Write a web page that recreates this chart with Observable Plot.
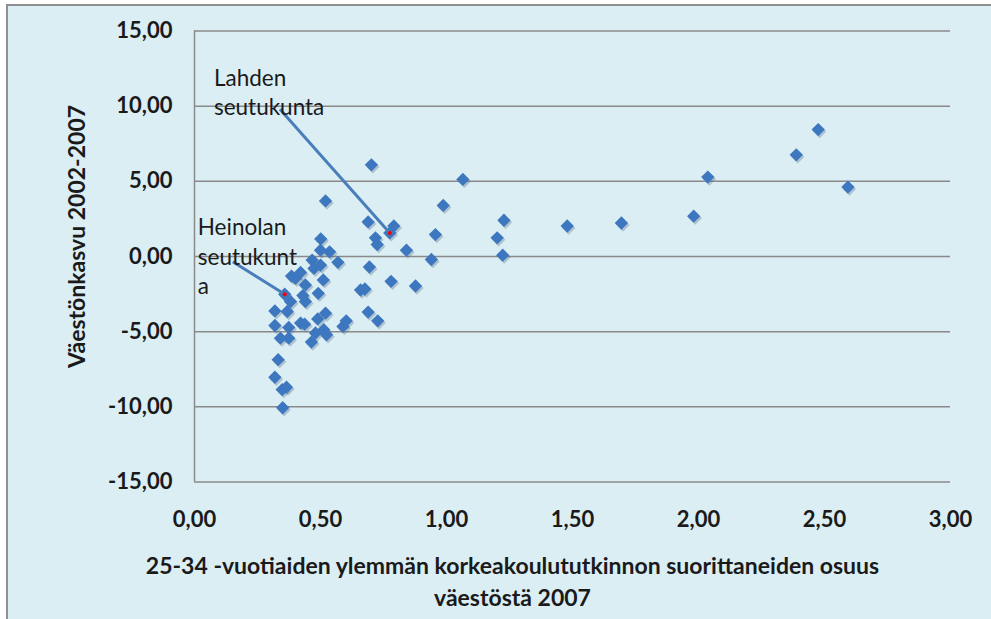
<!DOCTYPE html>
<html><head><meta charset="utf-8">
<script src="https://cdn.jsdelivr.net/npm/d3@7"></script>
<script src="https://cdn.jsdelivr.net/npm/@observablehq/plot@0.6"></script>
<style>
body{margin:0;background:#fff;}
#wrap{position:relative;width:991px;height:619px;overflow:hidden;}
#bg{position:absolute;left:6px;top:4px;width:990px;height:620px;background:#dbeef4;border-left:2px solid #909090;border-top:2px solid #909090;}
#chart{position:absolute;left:0;top:0;}
</style></head><body>
<div id="wrap"><div id="bg"></div><div id="chart"></div></div>
<script>
// Share of 25-34 year olds with higher university degree (x) vs population growth 2002-2007 (y)
const xShare = [0.702,0.520,0.689,0.791,0.775,0.718,0.725,0.841,0.940,0.501,0.500,0.536,0.467,0.500,0.474,0.569,0.694,0.385,0.421,0.401,0.511,0.780,0.877,0.440,0.491,0.430,0.440,0.358,0.381,0.659,0.676,0.319,0.368,0.689,0.727,0.520,0.489,0.602,0.589,0.319,0.374,0.421,0.437,0.513,0.524,0.480,0.464,0.341,0.374,0.332,0.319,0.348,0.365,0.350,1.065,0.987,0.956,1.228,1.201,1.223,1.479,1.694,1.981,2.037,2.388,2.475,2.593];
const yGrowth = [6.10,3.70,2.30,2.03,1.57,1.24,0.80,0.42,-0.20,1.17,0.42,0.31,-0.24,-0.57,-0.79,-0.39,-0.70,-1.30,-1.06,-1.45,-1.56,-1.65,-1.96,-1.89,-2.45,-2.60,-3.00,-2.51,-3.00,-2.23,-2.16,-3.62,-3.66,-3.70,-4.28,-3.77,-4.15,-4.28,-4.65,-4.59,-4.72,-4.43,-4.50,-4.87,-5.21,-5.09,-5.69,-5.43,-5.43,-6.86,-8.03,-8.85,-8.69,-10.06,5.13,3.40,1.46,2.41,1.24,0.09,2.03,2.23,2.68,5.28,6.76,8.44,4.62];

const xTicks = [0, 0.5, 1, 1.5, 2, 2.5, 3];
const yTicks = [-15, -10, -5, 0, 5, 10, 15];

// Annotations
const annoNames = ["Lahden\nseutukunta", "Heinolan\nseutukunt\na"];
const annoTextX = [0.077, 0.013];
const annoTextY = [11.0, 0.1];
const annoLineX1 = [0.339, 0.152];
const annoLineY1 = [9.80, -0.35];
const annoPointX = [0.775, 0.358];
const annoPointY = [1.57, -2.51];

const yTitle = "Väestönkasvu 2002-2007";
const xTitle = "25-34 -vuotiaiden ylemmän korkeakoulututkinnon suorittaneiden osuus\nväestöstä 2007";

const points = xShare.map((x, i) => ({x, y: yGrowth[i]}));
const annos = annoNames.map((t, i) => ({t, tx: annoTextX[i], ty: annoTextY[i], x1: annoLineX1[i], y1: annoLineY1[i], x2: annoPointX[i], y2: annoPointY[i]}));

const fmt = d => d.toFixed(2).replace(".", ",");
const font = "Lato, 'Open Sans', sans-serif";

const plot = Plot.plot({
  width: 991, height: 619,
  marginLeft: 194, marginRight: 41, marginTop: 30.5, marginBottom: 137.5,
  style: {background: "transparent", fontFamily: font, color: "#1a1a1a", overflow: "visible"},
  x: {domain: [0, 3], label: null},
  y: {domain: [-15, 15], label: null},
  marks: [
    Plot.gridY(yTicks, {stroke: "#8a8a8a", strokeOpacity: 1, strokeWidth: 1.5}),
    Plot.ruleX([0], {stroke: "#8a8a8a", strokeWidth: 1.5}),
    Plot.axisY({ticks: yTicks, tickSize: 0, tickPadding: 22, tickFormat: fmt, fontSize: 22, fontWeight: "bold", label: null}),
    Plot.axisX({ticks: xTicks, tickSize: 0, tickPadding: 29, tickFormat: fmt, fontSize: 22, fontWeight: "bold", label: null}),
    Plot.dot(points, {x: "x", y: "y", symbol: "diamond2", r: 6, fill: "#5a6f88", fillOpacity: 0.35, dx: 1.5, dy: 2}),
    Plot.dot(points, {x: "x", y: "y", symbol: "diamond2", r: 6, fill: "#3d77c0"}),
    Plot.link(annos, {x1: "x1", y1: "y1", x2: "x2", y2: "y2", stroke: "#4a7ebb", strokeWidth: 3}),
    Plot.dot(annos, {x: "x2", y: "y2", r: 2, fill: "#ff0000"}),
    Plot.text(annos, {x: "tx", y: "ty", text: "t", textAnchor: "start", lineHeight: 1.32, fontSize: 22.5, fill: "#1a1a1a"}),
    Plot.text([yTitle], {frameAnchor: "left", text: d => d, textAnchor: "middle", lineAnchor: "middle", rotate: -90, dx: -117, dy: -20, fontSize: 23, fontWeight: "bold", fill: "#1a1a1a"}),
    Plot.text([xTitle], {frameAnchor: "bottom", text: d => d, textAnchor: "middle", lineAnchor: "middle", dx: -60, dy: 98, lineHeight: 1.38, fontSize: 23, fontWeight: "bold", fill: "#1a1a1a"})
  ]
});
document.getElementById("chart").appendChild(plot);
</script>
</body></html>
